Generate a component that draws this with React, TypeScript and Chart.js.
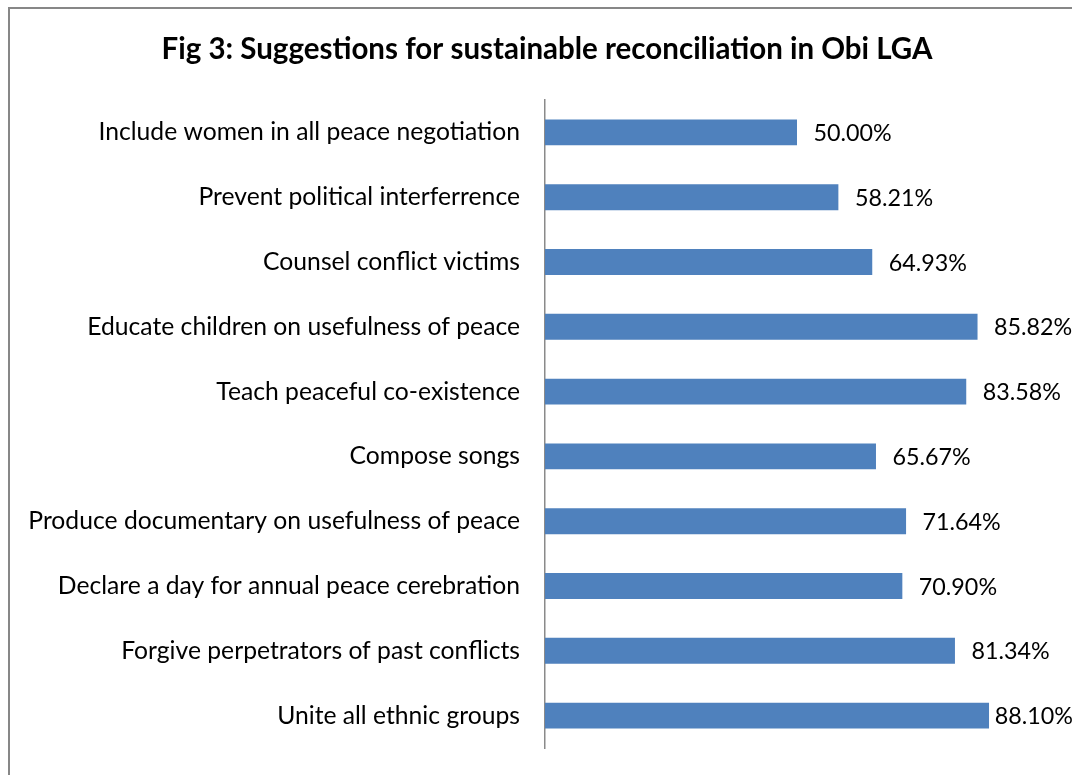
import React, { useEffect, useRef } from "react";
import { Chart, registerables } from "chart.js";

Chart.register(...registerables);

const titleText = "Fig 3: Suggestions for sustainable reconciliation in Obi LGA";
const categories = [
  "Include women in all peace negotiation",
  "Prevent political interferrence",
  "Counsel conflict victims",
  "Educate children on usefulness of peace",
  "Teach peaceful co-existence",
  "Compose songs",
  "Produce documentary on usefulness of peace",
  "Declare a day for annual peace cerebration",
  "Forgive perpetrators of past conflicts",
  "Unite all ethnic groups",
];
const values = [50.0, 58.21, 64.93, 85.82, 83.58, 65.67, 71.64, 70.9, 81.34, 88.1];

const FONT = "Lato, 'Open Sans', sans-serif";

export default function App() {
  const ref = useRef<HTMLCanvasElement>(null);

  useEffect(() => {
    if (!ref.current) return;
    const labelPlugin = {
      id: "valueLabels",
      afterDatasetsDraw(chart: any) {
        const ctx = chart.ctx;
        const meta = chart.getDatasetMeta(0);
        ctx.save();
        ctx.font = `23.3px ${FONT}`;
        ctx.fillStyle = "#000";
        ctx.textBaseline = "middle";
        ctx.textAlign = "left";
        meta.data.forEach((bar: any, i: number) => {
          const txt = values[i].toFixed(2) + "%";
          const w = ctx.measureText(txt).width;
          let x = bar.x + 16.5;
          const limit = Math.max(bar.x + 3, chart.width + 1 - w);
          if (x > limit) x = limit;
          ctx.fillText(txt, x, bar.y + 1);
        });
        ctx.restore();
      },
    };
    const titlePlugin = {
      id: "customTitle",
      afterDraw(chart: any) {
        const ctx = chart.ctx;
        ctx.save();
        ctx.font = `bold 29.5px ${FONT}`;
        ctx.fillStyle = "#000";
        ctx.textAlign = "center";
        ctx.textBaseline = "middle";
        ctx.fillText(titleText, 547, 49);
        ctx.restore();
      },
    };
    const chart = new Chart(ref.current, {
      type: "bar",
      data: {
        labels: categories,
        datasets: [
          {
            data: values,
            backgroundColor: "#4f81bd",
            borderWidth: 0,
            barPercentage: 0.4,
            categoryPercentage: 1,
          },
        ],
      },
      options: {
        indexAxis: "y",
        animation: false,
        responsive: false,
        layout: { padding: { top: 100, bottom: 27, right: 23, left: 0 } },
        plugins: {
          legend: { display: false },
          tooltip: { enabled: false },
          title: { display: false },
        },
        scales: {
          x: {
            display: false,
            min: 0,
            max: 100,
          },
          y: {
            grid: { display: false, drawTicks: false },
            border: { display: true, color: "#8a8a8a", width: 1.5 },
            ticks: {
              color: "#000",
              font: { family: FONT, size: 24.7 },
              padding: 25,
            },
            afterFit(scale: any) {
              scale.width = 545;
              scale.paddingTop = 0;
              scale.paddingBottom = 0;
            },
          },
        },
      },
      plugins: [labelPlugin, titlePlugin],
    });
    return () => chart.destroy();
  }, []);

  return (
    <div>
      <div
        style={{
          position: "fixed",
          left: 8,
          top: 7,
          width: 1100,
          height: 800,
          borderLeft: "2px solid #878787",
          borderTop: "2px solid #878787",
          boxSizing: "border-box",
        }}
      />
      <canvas
        ref={ref}
        width={1072}
        height={775}
        style={{ position: "fixed", left: 0, top: 0, width: 1072, height: 775 }}
      />
    </div>
  );
}
